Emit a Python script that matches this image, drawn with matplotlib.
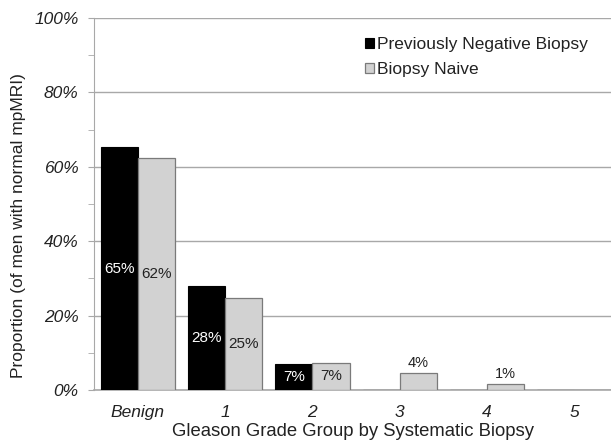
import matplotlib
matplotlib.use("Agg")
import matplotlib.pyplot as plt
import numpy as np
from matplotlib.ticker import MultipleLocator, FuncFormatter

categories = ["Benign", "1", "2", "3", "4", "5"]
prev_negative = [65.2, 28.0, 7.1, 0, 0, 0]
biopsy_naive = [62.4, 24.8, 7.35, 4.5, 1.5, 0]
prev_labels = ["65%", "28%", "7%", "", "", ""]
naive_labels = ["62%", "25%", "7%", "4%", "1%", ""]

plt.rcParams['font.family'] = ['Liberation Sans', 'DejaVu Sans']

fig = plt.figure(figsize=(6.11, 4.44), dpi=100)
ax = fig.add_axes([94/611, 54/444, 1 - 94/611, 372/444])

x = np.arange(len(categories))
w = 0.425
b1 = ax.bar(x - w/2, prev_negative, w, color="black", edgecolor="black", linewidth=0.8,
            label="Previously Negative Biopsy", zorder=3)
b2 = ax.bar(x + w/2, biopsy_naive, w, color="#d2d2d2", edgecolor="#7a7a7a", linewidth=0.9,
            label="Biopsy Naive", zorder=3)

for i in range(len(categories)):
    v1, v2 = prev_negative[i], biopsy_naive[i]
    if prev_labels[i]:
        ax.text(x[i] - w/2, v1/2, prev_labels[i], ha="center", va="center", color="white",
                fontsize=11, zorder=4)
    if naive_labels[i]:
        if v2 > 6:
            ax.text(x[i] + w/2, v2/2, naive_labels[i], ha="center", va="center", color="#222222",
                    fontsize=11, zorder=4)
        else:
            ax.text(x[i] + w/2, v2 + 0.8, naive_labels[i], ha="center", va="bottom", color="#222222",
                    fontsize=10.5, zorder=4)

ax.set_xlim(-0.5, 5.418)
ax.set_ylim(0, 100)
ax.yaxis.set_major_locator(MultipleLocator(20))
ax.yaxis.set_minor_locator(MultipleLocator(10))
ax.yaxis.set_major_formatter(FuncFormatter(lambda v, p: f"{int(v)}%"))
ax.grid(axis="y", which="major", color="#a8a8a8", linewidth=1.0, zorder=0)
ax.set_axisbelow(True)

ax.set_xticks(x)
ax.set_xticklabels(categories, fontstyle="italic", fontsize=12.5, color="#222222")
for lbl in ax.get_yticklabels():
    lbl.set_fontstyle("italic")
    lbl.set_fontsize(12.5)
    lbl.set_color("#222222")

ax.tick_params(axis="x", length=0, pad=11)
ax.tick_params(axis="y", which="major", length=4, color="#a8a8a8", pad=7)
ax.tick_params(axis="y", which="minor", length=4, color="#a8a8a8")

for s in ["top", "right"]:
    ax.spines[s].set_visible(False)
ax.spines["left"].set_color("#a8a8a8")
ax.spines["bottom"].set_color("#a8a8a8")
ax.spines["bottom"].set_linewidth(1.2)

ax.set_xlabel("Gleason Grade Group by Systematic Biopsy", fontsize=13.3, color="#222222", labelpad=2)
ax.set_ylabel("Proportion (of men with normal mpMRI)", fontsize=12.5, color="#222222")
ax.yaxis.set_label_coords(-0.1315, 0.441)

leg = ax.legend(loc="upper right", bbox_to_anchor=(0.985, 0.99), frameon=False, fontsize=12.5,
                handlelength=0.55, handleheight=0.55, handletextpad=0.15, labelspacing=0.55)
for t in leg.get_texts():
    t.set_color("#222222")

fig.savefig("out.png", dpi=100)
